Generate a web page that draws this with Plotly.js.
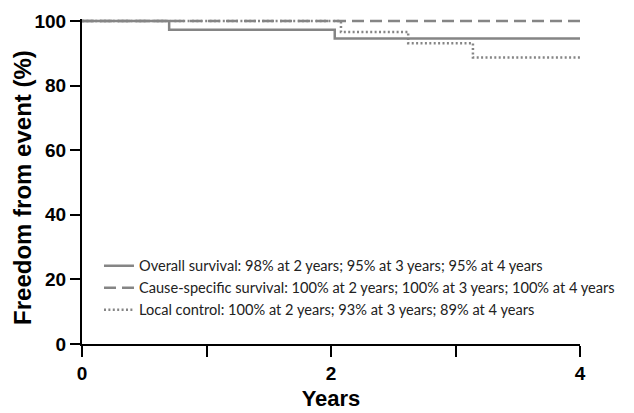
<!DOCTYPE html>
<html>
<head>
<meta charset="utf-8">
<script src="https://cdn.plot.ly/plotly-3.0.1.min.js"></script>
<style>html,body{margin:0;padding:0;background:#fff}#chart{width:634px;height:413px}</style>
</head>
<body>
<div id="chart"></div>
<script>
// Kaplan-Meier step data (years, % freedom from event)
const osYears = [0, 0.70, 2.03, 4];
const osValues = [100, 97.3, 94.6, 94.6];
const cssYears = [0, 4];
const cssValues = [100, 100];
const lcYears = [0, 2.08, 2.62, 3.14, 4];
const lcValues = [100, 96.6, 93.1, 88.7, 88.7];
const seriesNames = [
  'Overall survival: 98% at 2 years; 95% at 3 years; 95% at 4 years',
  'Cause-specific survival: 100% at 2 years; 100% at 3 years; 100% at 4 years',
  'Local control: 100% at 2 years; 93% at 3 years; 89% at 4 years'
];
const xTickVals = [0, 1, 2, 3, 4];
const xTickText = ['0', '', '2', '', '4'];
const yTickVals = [0, 20, 40, 60, 80, 100];

const gray = '#858585';
const traces = [
  {x: osYears, y: osValues, name: seriesNames[0], mode: 'lines',
   line: {shape: 'hv', color: gray, width: 2.5}},
  {x: cssYears, y: cssValues, name: seriesNames[1], mode: 'lines',
   line: {shape: 'hv', color: gray, width: 2.5, dash: '12px,6px'}},
  {x: lcYears, y: lcValues, name: seriesNames[2], mode: 'lines',
   line: {shape: 'hv', color: gray, width: 2.5, dash: '2px,2.4px'}}
];
const boldFont = 'Liberation Sans, Arial, sans-serif';
const tickFont = {family: boldFont, size: 19, color: '#000', weight: 'bold'};
const layout = {
  width: 634, height: 413,
  margin: {l: 82, r: 54, t: 19, b: 69, pad: 0, autoexpand: false},
  paper_bgcolor: '#fff', plot_bgcolor: '#fff',
  showlegend: true,
  legend: {x: 0.0341, y: 0.29, xanchor: 'left', yanchor: 'top', bgcolor: 'rgba(0,0,0,0)', borderwidth: 0,
    font: {family: 'Lato, sans-serif', size: 14.6, color: '#222'}},
  xaxis: {range: [0, 4], tickvals: xTickVals, ticktext: xTickText, ticks: 'outside', ticklen: 11, tickwidth: 2,
    tickcolor: '#000', showline: true, linecolor: '#000', linewidth: 2, showgrid: false, zeroline: false,
    tickfont: tickFont, fixedrange: true,
    title: {text: 'Years', font: {family: boldFont, size: 22, color: '#000', weight: 'bold'}, standoff: 8}},
  yaxis: {range: [0, 100.6], tickvals: yTickVals, ticks: 'outside', ticklen: 10, tickwidth: 2,
    tickcolor: '#000', showline: true, linecolor: '#000', linewidth: 2, showgrid: false, zeroline: false,
    tickfont: tickFont, fixedrange: true},
  annotations: [{text: 'Freedom from event (%)', textangle: -90, showarrow: false,
    xref: 'paper', yref: 'paper', x: -0.12, y: 0.481, xanchor: 'center', yanchor: 'middle',
    font: {family: boldFont, size: 24, color: '#000', weight: 'bold'}}]
};
Plotly.newPlot('chart', traces, layout, {displayModeBar: false, staticPlot: true});
</script>
</body>
</html>
